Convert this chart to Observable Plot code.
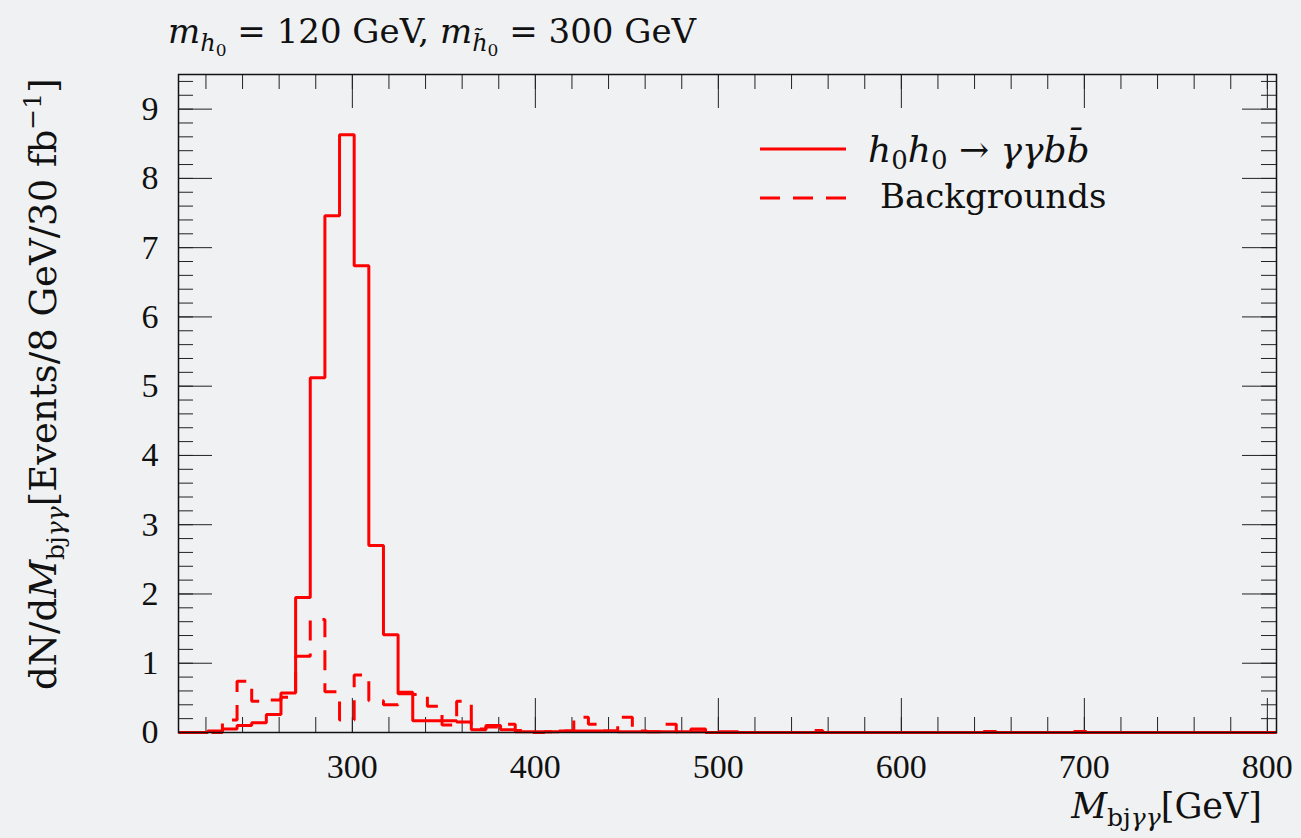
<!DOCTYPE html>
<html><head><meta charset="utf-8">
<script src="https://cdn.jsdelivr.net/npm/d3@7"></script>
<script src="https://cdn.jsdelivr.net/npm/@observablehq/plot@0.6"></script>
<style>
html,body{margin:0;padding:0;background:#f0f1f3;}
#wrap{position:relative;width:1301px;height:838px;}
#overlay{position:absolute;left:0;top:0;pointer-events:none;}
#overlay text{font-family:"DejaVu Serif",serif;fill:#111;}
</style></head><body>
<div id="wrap"></div>
<script>
// Histogram binning (GeV)
const binLow = 205, binWidth = 8, binHigh = 805;
// Signal: h0h0 -> gamma gamma b bbar (events / 8 GeV / 30 fb^-1)
const signal = [
  0, 0, 0.02, 0.05, 0.10, 0.14, 0.26, 0.57, 1.95, 5.12,
  7.46, 8.63, 6.74, 2.70, 1.41, 0.56, 0.17, 0.17, 0.17, 0.15,
  0.04, 0.10, 0.04, 0.01, 0.01, 0.01, 0.02, 0.02, 0.02, 0.02,
  0.01, 0.01, 0.01, 0.01, 0.01, 0.01, 0, 0, 0, 0,
  0, 0, 0, 0, 0, 0, 0, 0, 0, 0,
  0, 0, 0, 0, 0, 0, 0, 0, 0, 0,
  0, 0, 0, 0, 0, 0, 0, 0, 0, 0,
  0, 0, 0, 0, 0
];
// Backgrounds
const background = [
  0, 0, 0, 0.18, 0.74, 0.45, 0.47, 0.51, 1.10, 1.63,
  0.59, 0.18, 0.83, 0.46, 0.40, 0.58, 0.55, 0.38, 0.11, 0.45,
  0.05, 0.08, 0.12, 0.03, 0, 0.01, 0.02, 0.22, 0.12, 0.02,
  0.22, 0.02, 0.01, 0.12, 0.01, 0.05, 0.01, 0.01, 0.01, 0,
  0, 0, 0, 0.03, 0, 0, 0, 0, 0, 0,
  0, 0, 0, 0, 0, 0.015, 0, 0, 0, 0,
  0, 0.015, 0, 0, 0, 0, 0, 0, 0, 0,
  0, 0, 0, 0, 0
];
const xTickLabels = [300, 400, 500, 600, 700, 800];
const yTickLabels = [0, 1, 2, 3, 4, 5, 6, 7, 8, 9];
const xMajor = [300, 400, 500, 600, 700, 800];
const xMinor = d3.range(220, 805, 20);
const yMajor = yTickLabels;
const yMinor = d3.range(0, 9.5, 0.2);

const edges = signal.map((_, i) => binLow + i * binWidth);
const toSteps = vals => vals.map((v, i) => ({x: edges[i], y: v})).concat([{x: binHigh, y: vals[vals.length - 1]}]);
const sigStep = toSteps(signal);
const bgStep = toSteps(background);

const W = 1301, H = 838, mL = 178, mR = 25, mT = 74, mB = 106;
const iW = W - mL - mR, iH = H - mT - mB;
const tickColor = "#222";

const chart = Plot.plot({
  width: W, height: H,
  marginLeft: mL, marginRight: mR, marginTop: mT, marginBottom: mB,
  style: {background: "transparent", fontFamily: "'Liberation Serif', serif", color: "#111", overflow: "visible"},
  x: {domain: [binLow, binHigh]},
  y: {domain: [0, 9.5]},
  marks: [
    Plot.tickX(xMinor, {x: d => d, insetTop: iH - 15, stroke: tickColor}),
    Plot.tickX(xMajor, {x: d => d, insetTop: iH - 34, stroke: tickColor}),
    Plot.tickX(xMinor, {x: d => d, insetBottom: iH - 15, stroke: tickColor}),
    Plot.tickX(xMajor, {x: d => d, insetBottom: iH - 34, stroke: tickColor}),
    Plot.tickY(yMinor, {y: d => d, insetRight: iW - 15, stroke: tickColor}),
    Plot.tickY(yMajor, {y: d => d, insetRight: iW - 34, stroke: tickColor}),
    Plot.tickY(yMinor, {y: d => d, insetLeft: iW - 15, stroke: tickColor}),
    Plot.tickY(yMajor, {y: d => d, insetLeft: iW - 34, stroke: tickColor}),
    Plot.line(bgStep, {x: "x", y: "y", curve: "step-after", stroke: "#ff0000", strokeWidth: 3, strokeDasharray: "20,13", strokeLinejoin: "miter", strokeLinecap: "butt"}),
    Plot.line(sigStep, {x: "x", y: "y", curve: "step-after", stroke: "#ff0000", strokeWidth: 3, strokeLinejoin: "miter", strokeLinecap: "butt"}),
    Plot.frame({stroke: "#111", strokeWidth: 1.5}),
    Plot.axisX({ticks: xTickLabels, tickSize: 0, tickPadding: 21, fontSize: 34, label: null}),
    Plot.axisY({ticks: yTickLabels, tickSize: 0, tickPadding: 20, fontSize: 34, label: null})
  ]
});
const wrap = document.getElementById("wrap");
wrap.appendChild(chart);

// Overlay texts: title, axis titles, legend
const ov = `
<svg id="overlay" width="${W}" height="${H}" xmlns="http://www.w3.org/2000/svg">
  <text x="168" y="43" font-size="34"><tspan font-style="italic">m</tspan><tspan font-size="24" dy="8" font-style="italic">h</tspan><tspan font-size="17" dy="5">0</tspan><tspan dy="-13"> = 120 GeV, </tspan><tspan font-style="italic">m</tspan><tspan font-size="24" dy="8" font-style="italic">h̃</tspan><tspan font-size="17" dy="5">0</tspan><tspan dy="-13"> = 300 GeV</tspan></text>
  <text transform="translate(56,690) rotate(-90)" font-size="37">dN/d<tspan font-style="italic">M</tspan><tspan font-size="25" dy="8">bj<tspan font-style="italic">γγ</tspan></tspan><tspan dy="-8">[Events/8 GeV/30 fb</tspan><tspan font-size="25" dy="-15">−1</tspan><tspan dy="15">]</tspan></text>
  <text x="1262" y="818" font-size="35" text-anchor="end"><tspan font-style="italic">M</tspan><tspan font-size="25" dy="8">bj<tspan font-style="italic">γγ</tspan></tspan><tspan dy="-8">[GeV]</tspan></text>
  <line x1="760" x2="846" y1="149" y2="149" stroke="#ff0000" stroke-width="3"/>
  <line x1="760" x2="846" y1="198" y2="198" stroke="#ff0000" stroke-width="3" stroke-dasharray="20,13"/>
  <text x="868" y="162" font-size="36"><tspan font-style="italic">h</tspan><tspan font-size="26" dy="7">0</tspan><tspan dy="-7" font-style="italic">h</tspan><tspan font-size="26" dy="7">0</tspan><tspan dy="-7"> → </tspan><tspan font-style="italic">γγb</tspan><tspan font-style="italic">b̄</tspan></text>
  <text x="880" y="208" font-size="34">Backgrounds</text>
</svg>`;
wrap.insertAdjacentHTML("beforeend", ov);
</script>
</body></html>
